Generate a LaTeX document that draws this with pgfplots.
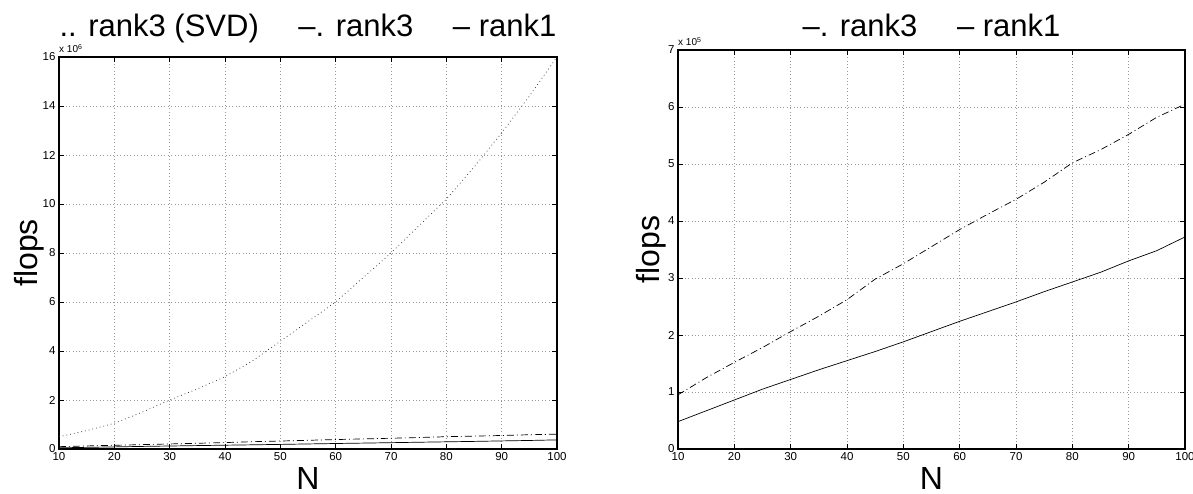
\documentclass[border=0pt]{standalone}
\usepackage{fontspec}
\setmainfont{Liberation Sans}
\usepackage{pgfplots}
\usepackage{pgfplotstable}
\pgfplotsset{compat=1.18}

\pgfplotsset{
  matlabstyle/.style={
    scale only axis,
    clip mode=individual,
    xmin=10, xmax=100, xtick={10,20,...,100},
    grid=major,
    major grid style={gray!80, dash pattern=on 0.8pt off 2.6pt, line width=0.5pt},
    axis line style={black, line width=1.1pt},
    tick style={black, line width=0.8pt},
    major tick length=5pt,
    tick align=inside,
    ticklabel style={font=\fontsize{11.5}{13}\selectfont},
    /pgf/number format/assume math mode=true,
    scaled y ticks=false,
    label style={font=\fontsize{32}{36}\selectfont},
    title style={font=\fontsize{31}{36}\selectfont, at={(axis description cs:0.5,1)}, anchor=base},
  },
  solidline/.style={black, line width=0.7pt},
  dashdotline/.style={black, line width=0.7pt, dash pattern=on 7pt off 3pt on 1pt off 3pt},
  dottedline/.style={black!80, line width=0.7pt, dash pattern=on 0.8pt off 3pt},
}

% flops per N, rank-3 SVD update (x 10^6)
\pgfplotstableread{
N  f
10 0.50
15 0.75
20 1.05
25 1.50
30 2.00
35 2.45
40 2.95
45 3.60
50 4.40
55 5.20
60 6.00
65 7.00
70 8.00
75 9.10
80 10.20
85 11.50
90 12.90
95 14.40
100 16.00
}\svd

% flops per N, rank-3 update (x 10^5)
\pgfplotstableread{
N  f
10 0.95
15 1.25
20 1.52
25 1.78
30 2.06
35 2.33
40 2.62
45 2.98
50 3.25
55 3.55
60 3.85
65 4.12
70 4.38
75 4.68
80 5.02
85 5.25
90 5.52
95 5.82
100 6.05
}\rankthree

% flops per N, rank-1 update (x 10^5)
\pgfplotstableread{
N  f
10 0.48
15 0.67
20 0.86
25 1.05
30 1.22
35 1.39
40 1.55
45 1.71
50 1.88
55 2.06
60 2.24
65 2.41
70 2.58
75 2.76
80 2.93
85 3.10
90 3.30
95 3.48
100 3.72
}\rankone

\begin{document}
\begin{tikzpicture}
\useasboundingbox (0,0) rectangle (1193pt,494pt);

\begin{axis}[matlabstyle,
  at={(59pt,45pt)}, anchor=south west,
  width=498pt, height=392pt,
  ymin=0, ymax=16, ytick={0,2,...,16},
  title={.. rank3 (SVD)\quad\ --. rank3\quad\ -- rank1},
  title style={yshift=14pt},
  xlabel={N}, ylabel={flops},
  xlabel style={at={(axis description cs:0.5,-0.075)}, anchor=center},
  ylabel style={at={(axis description cs:-0.06,0.5)}, anchor=center, rotate=0},
]
\addplot[dottedline] table[x=N, y=f] {\svd};
\addplot[dashdotline] table[x=N, y expr=\thisrow{f}/10] {\rankthree};
\addplot[solidline] table[x=N, y expr=\thisrow{f}/10] {\rankone};
\node[anchor=base west, font=\fontsize{10}{11}\selectfont, inner sep=0pt, yshift=4pt]
  at (rel axis cs:0,1) {x 10\textsuperscript{6}};
\end{axis}

\begin{axis}[matlabstyle,
  at={(678pt,45pt)}, anchor=south west,
  width=507pt, height=399pt,
  ymin=0, ymax=7, ytick={0,1,...,7},
  title={--. rank3\quad\ -- rank1},
  title style={yshift=7pt},
  xlabel={N}, ylabel={flops},
  xlabel style={at={(axis description cs:0.5,-0.074)}, anchor=center},
  ylabel style={at={(axis description cs:-0.053,0.5)}, anchor=center, rotate=0},
]
\addplot[dashdotline] table[x=N, y=f] {\rankthree};
\addplot[solidline] table[x=N, y=f] {\rankone};
\node[anchor=base west, font=\fontsize{10}{11}\selectfont, inner sep=0pt, yshift=4pt]
  at (rel axis cs:0,1) {x 10\textsuperscript{5}};
\end{axis}
\end{tikzpicture}
\end{document}
